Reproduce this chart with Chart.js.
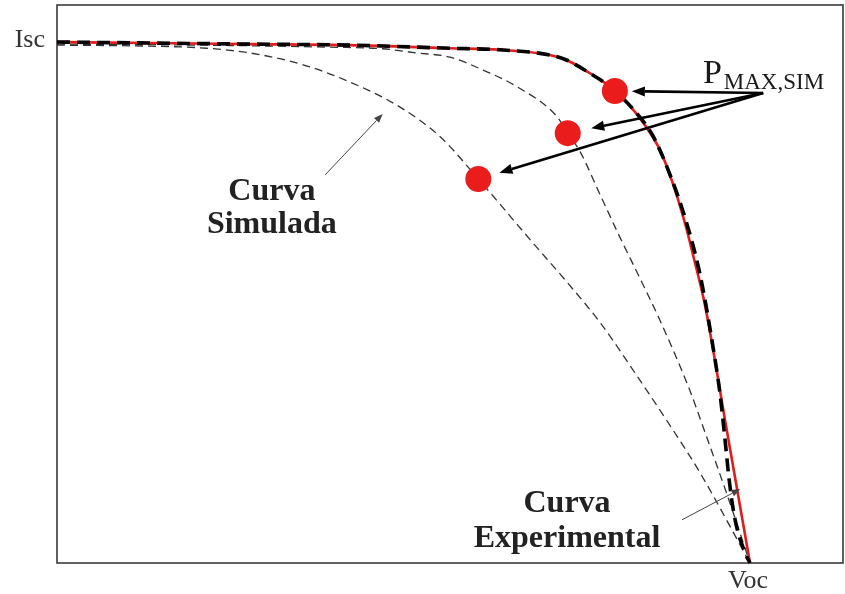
<!DOCTYPE html>
<html>
<head>
<meta charset="utf-8">
<script src="https://cdn.jsdelivr.net/npm/chart.js@4.4.1/dist/chart.umd.min.js"></script>
<style>
  html, body { margin: 0; padding: 0; background: #fff; }
  #wrap { width: 845px; height: 594px; position: relative; }
</style>
</head>
<body>
<div id="wrap"><canvas id="iv"></canvas></div>
<script>
// I-V curves, voltage normalised to Voc and current normalised to Isc

// measured curve
const expV = [0, 0.134, 0.278, 0.423, 0.567, 0.639, 0.711, 0.736, 0.769, 0.791, 0.805, 0.827, 0.848, 0.870, 0.887, 0.905, 0.919, 0.935, 0.964, 1.000];
const expI = [1.000, 0.998, 0.996, 0.994, 0.988, 0.985, 0.975, 0.965, 0.940, 0.921, 0.906, 0.877, 0.841, 0.793, 0.735, 0.658, 0.585, 0.495, 0.274, 0];

// best simulated fit
const fitV = [0, 0.134, 0.278, 0.423, 0.567, 0.639, 0.711, 0.736, 0.769, 0.791, 0.805, 0.830, 0.859, 0.882, 0.908, 0.928, 0.945, 0.957, 0.964, 0.970, 0.978, 0.993, 1.000];
const fitI = [1.000, 0.998, 0.996, 0.994, 0.988, 0.985, 0.975, 0.965, 0.940, 0.921, 0.906, 0.873, 0.822, 0.754, 0.655, 0.553, 0.428, 0.322, 0.236, 0.159, 0.086, 0.019, 0];

// intermediate simulated curve
const simAV = [0, 0.206, 0.394, 0.470, 0.519, 0.567, 0.615, 0.664, 0.722, 0.737, 0.755, 0.784, 0.812, 0.841, 0.870, 0.913, 0.935, 0.967, 1.000];
const simAI = [0.996, 0.994, 0.990, 0.987, 0.979, 0.971, 0.946, 0.914, 0.856, 0.825, 0.789, 0.706, 0.626, 0.547, 0.466, 0.332, 0.251, 0.131, 0];

// furthest simulated curve
const simBV = [0, 0.134, 0.216, 0.278, 0.351, 0.423, 0.495, 0.553, 0.608, 0.687, 0.736, 0.784, 0.837, 0.889, 0.928, 1.000];
const simBI = [0.994, 0.992, 0.988, 0.979, 0.958, 0.923, 0.875, 0.818, 0.737, 0.614, 0.539, 0.461, 0.359, 0.255, 0.173, 0];

// maximum power points of the simulated curves
const pmaxV = [0.805, 0.737, 0.608];
const pmaxI = [0.906, 0.825, 0.737];

// axis marks and captions
const axisLabels = { isc: 'Isc', voc: 'Voc' };
const textSim = ['Curva', 'Simulada'];
const textExp = ['Curva', 'Experimental'];
const textPmax = { main: 'P', sub: 'MAX,SIM' };

const toXY = (xs, ys) => xs.map((v, i) => ({ x: v, y: ys[i] }));

function arrow(ctx, x1, y1, x2, y2, lw, headLen, headW, color) {
  const ang = Math.atan2(y2 - y1, x2 - x1);
  const bx = x2 - headLen * Math.cos(ang), by = y2 - headLen * Math.sin(ang);
  ctx.strokeStyle = color; ctx.fillStyle = color; ctx.lineWidth = lw;
  ctx.setLineDash([]);
  ctx.beginPath(); ctx.moveTo(x1, y1); ctx.lineTo(bx, by); ctx.stroke();
  ctx.beginPath();
  ctx.moveTo(x2, y2);
  ctx.lineTo(bx + headW / 2 * Math.sin(ang), by - headW / 2 * Math.cos(ang));
  ctx.lineTo(bx - headW / 2 * Math.sin(ang), by + headW / 2 * Math.cos(ang));
  ctx.closePath(); ctx.fill();
}

const frame = {
  id: 'frame',
  beforeDatasetsDraw(chart) {
    const { ctx, chartArea: a } = chart;
    ctx.save();
    ctx.strokeStyle = '#3a3a3a';
    ctx.lineWidth = 1.6;
    ctx.strokeRect(a.left, a.top, a.right - a.left, a.bottom - a.top);
    ctx.restore();
  }
};

const notes = {
  id: 'notes',
  afterDatasetsDraw(chart) {
    const { ctx, chartArea: a, scales: { x, y } } = chart;
    ctx.save();

    // Isc / Voc marks
    ctx.fillStyle = '#333';
    ctx.font = '26px "Liberation Serif"';
    ctx.textAlign = 'right'; ctx.textBaseline = 'alphabetic';
    ctx.fillText(axisLabels.isc, a.left - 12, y.getPixelForValue(1) + 5);
    ctx.textAlign = 'center';
    ctx.fillText(axisLabels.voc, x.getPixelForValue(1) - 2, a.bottom + 25);

    // curve captions
    ctx.fillStyle = '#222';
    ctx.font = 'bold 32px "Liberation Serif"';
    ctx.fillText(textSim[0], x.getPixelForValue(0.310), y.getPixelForValue(0.697));
    ctx.fillText(textSim[1], x.getPixelForValue(0.310), y.getPixelForValue(0.633));
    ctx.fillText(textExp[0], x.getPixelForValue(0.736), y.getPixelForValue(0.098));
    ctx.fillText(textExp[1], x.getPixelForValue(0.736), y.getPixelForValue(0.031));

    arrow(ctx, x.getPixelForValue(0.387), y.getPixelForValue(0.745),
          x.getPixelForValue(0.470), y.getPixelForValue(0.862), 1, 9, 7, '#444');
    arrow(ctx, x.getPixelForValue(0.902), y.getPixelForValue(0.083),
          x.getPixelForValue(0.986), y.getPixelForValue(0.142), 1, 9, 7, '#444');

    // P_MAX,SIM label
    ctx.fillStyle = '#1a1a1a';
    ctx.textAlign = 'left';
    ctx.font = '34px "Liberation Serif"';
    const px = x.getPixelForValue(0.932), py = y.getPixelForValue(0.921);
    ctx.fillText(textPmax.main, px, py);
    const pw = ctx.measureText(textPmax.main).width;
    ctx.font = '23px "Liberation Serif"';
    ctx.fillText(textPmax.sub, px + pw + 2, py + 6);

    // arrows from the label to each maximum power point
    const ox = x.getPixelForValue(1.019), oy = y.getPixelForValue(0.902);
    const gaps = [17, 24, 22];
    pmaxV.forEach((v, i) => {
      const cx = x.getPixelForValue(v), cy = y.getPixelForValue(pmaxI[i]);
      const d = Math.hypot(ox - cx, oy - cy);
      const tx = cx + (ox - cx) / d * gaps[i], ty = cy + (oy - cy) / d * gaps[i];
      arrow(ctx, ox, oy, tx, ty, 2.6, 13, 10, '#000');
    });
    ctx.restore();
  }
};

new Chart(document.getElementById('iv'), {
  type: 'line',
  data: {
    datasets: [
      {
        label: 'Pmax',
        data: toXY(pmaxV, pmaxI),
        showLine: false,
        pointRadius: 13,
        pointHoverRadius: 13,
        pointBackgroundColor: '#ea1c1c',
        pointBorderColor: '#ea1c1c',
        pointBorderWidth: 0
      },
      {
        label: 'Ajuste',
        data: toXY(fitV, fitI),
        borderColor: '#000',
        borderWidth: 3.6,
        borderDash: [13, 7],
        pointRadius: 0,
        cubicInterpolationMode: 'monotone'
      },
      {
        label: 'Experimental',
        data: toXY(expV, expI),
        borderColor: '#e31b1b',
        borderWidth: 2.6,
        pointRadius: 0,
        cubicInterpolationMode: 'monotone'
      },
      {
        label: 'Simulada A',
        data: toXY(simAV, simAI),
        borderColor: '#333',
        borderWidth: 1.3,
        borderDash: [8, 5],
        pointRadius: 0,
        cubicInterpolationMode: 'monotone'
      },
      {
        label: 'Simulada B',
        data: toXY(simBV, simBI),
        borderColor: '#333',
        borderWidth: 1.3,
        borderDash: [8, 5],
        pointRadius: 0,
        cubicInterpolationMode: 'monotone'
      }
    ]
  },
  options: {
    responsive: true,
    maintainAspectRatio: false,
    animation: false,
    layout: { autoPadding: false, padding: { left: 57, top: 5, right: 2, bottom: 31 } },
    plugins: { legend: { display: false }, tooltip: { enabled: false } },
    scales: {
      x: { type: 'linear', min: 0, max: 1.1342, display: false },
      y: { type: 'linear', min: 0, max: 1.0710, display: false }
    },
    clip: false
  },
  plugins: [frame, notes]
});
</script>
</body>
</html>
